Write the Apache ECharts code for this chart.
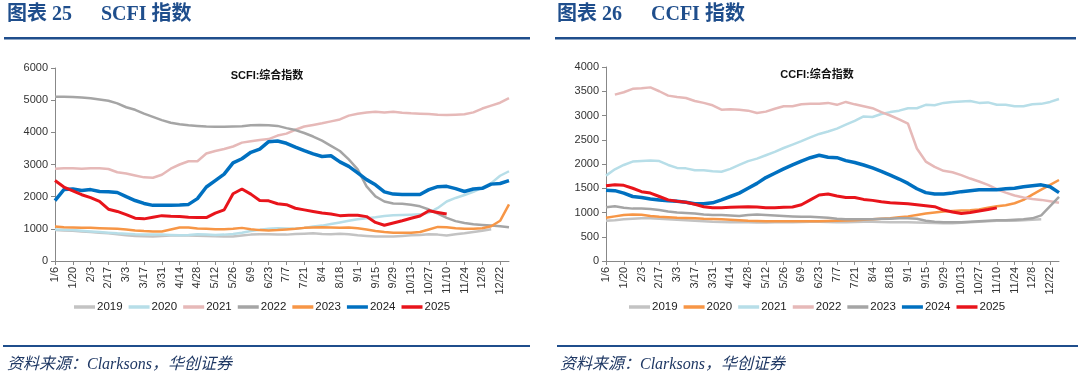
<!DOCTYPE html>
<html><head><meta charset="utf-8">
<script src="https://cdn.jsdelivr.net/npm/echarts@6/dist/echarts.min.js"></script>
<style>html,body{margin:0;padding:0;background:#fff}#c{width:1080px;height:380px}</style>
</head><body><div id="c"></div>
<script>
const weeks = ['1/6','1/13','1/20','1/27','2/3','2/10','2/17','2/24','3/3','3/10','3/17','3/24','3/31','4/7','4/14','4/21','4/28','5/5','5/12','5/19','5/26','6/2','6/9','6/16','6/23','6/30','7/7','7/14','7/21','7/28','8/4','8/11','8/18','8/25','9/1','9/8','9/15','9/22','9/29','10/6','10/13','10/20','10/27','11/3','11/10','11/17','11/24','12/1','12/8','12/15','12/22','12/29'];
const years = ['2019','2020','2021','2022','2023','2024','2025'];

// SCFI composite index
const scfi2019 = [960,950,940,920,900,880,860,830,800,780,770,760,780,790,790,790,785,780,770,760,760,790,820,830,830,820,820,840,850,860,840,830,850,830,800,780,760,760,760,780,800,810,830,820,790,830,860,900,940,990];
const scfi2020 = [980,970,960,940,920,900,880,860,850,830,820,820,820,810,800,810,830,820,810,820,840,880,930,970,1000,1020,1010,1000,1030,1070,1100,1150,1200,1250,1300,1330,1360,1400,1420,1430,1440,1450,1500,1650,1850,1960,2050,2150,2280,2420,2650,2790];
const scfi2021 = [2870,2880,2880,2870,2880,2880,2860,2760,2720,2660,2600,2590,2680,2870,3000,3100,3100,3340,3420,3480,3560,3680,3720,3760,3790,3900,3960,4080,4180,4230,4280,4340,4400,4520,4580,4620,4640,4620,4640,4610,4590,4580,4570,4550,4540,4550,4560,4620,4740,4830,4920,5060];
const scfi2022 = [5110,5110,5100,5080,5060,5020,4980,4900,4780,4700,4580,4480,4380,4300,4250,4220,4200,4180,4170,4170,4180,4190,4220,4230,4220,4200,4130,4070,3980,3870,3740,3580,3420,3160,2850,2320,2010,1850,1790,1780,1750,1700,1600,1470,1340,1240,1180,1140,1120,1100,1080,1050];
const scfi2023 = [1070,1050,1040,1030,1030,1020,1010,1000,980,950,930,920,920,980,1040,1040,1010,1000,990,990,1000,1030,990,960,950,960,980,1000,1030,1040,1050,1040,1030,1040,1020,980,930,900,880,880,880,900,980,1060,1050,1020,1000,1000,1020,1080,1250,1760];
const scfi2024 = [1880,2220,2240,2190,2220,2160,2150,2130,2000,1880,1790,1730,1730,1730,1740,1760,1940,2300,2500,2700,3050,3180,3380,3480,3710,3730,3660,3540,3430,3330,3250,3270,3080,2940,2740,2530,2370,2150,2080,2070,2070,2070,2220,2310,2320,2250,2160,2240,2260,2390,2410,2500];
const scfi2025 = [2500,2300,2180,2060,1970,1850,1610,1540,1440,1330,1310,1360,1410,1390,1380,1360,1350,1350,1490,1590,2090,2240,2080,1880,1870,1780,1750,1640,1590,1540,1490,1460,1410,1420,1420,1380,1200,1110,1180,1250,1330,1400,1560,1510,1460];

// CCFI composite index
const ccfi2019 = [830,840,860,870,880,880,870,860,850,840,830,820,810,805,800,800,800,795,795,800,800,800,805,810,810,805,800,800,805,810,810,805,800,800,800,795,790,785,780,780,790,800,810,820,830,830,830,840,850,860];
const ccfi2020 = [890,920,950,960,955,930,910,900,890,885,880,870,865,860,850,840,830,825,820,820,820,820,820,820,820,825,830,835,840,850,860,870,880,900,920,950,980,1000,1020,1030,1040,1045,1060,1100,1130,1150,1190,1260,1370,1470,1570,1670];
const ccfi2021 = [1760,1890,1980,2050,2060,2070,2060,1980,1920,1910,1870,1870,1850,1840,1900,1980,2060,2110,2180,2250,2330,2400,2470,2550,2620,2670,2730,2810,2890,2980,2970,3030,3070,3100,3150,3150,3220,3210,3260,3280,3290,3300,3260,3270,3220,3220,3190,3190,3230,3240,3280,3340];
const ccfi2022 = [null,3430,3480,3550,3560,3580,3500,3410,3380,3360,3300,3260,3210,3120,3130,3120,3100,3050,3080,3140,3190,3190,3230,3240,3240,3260,3220,3280,3230,3190,3150,3070,3000,2920,2830,2320,2050,1940,1860,1830,1770,1700,1640,1570,1480,1410,1350,1310,1280,1260,1230,1200];
const ccfi2023 = [1110,1130,1100,1080,1080,1070,1050,1020,1000,990,980,960,950,950,940,930,950,960,950,940,930,920,910,910,900,890,870,860,860,860,860,870,870,880,880,870,830,810,800,800,800,810,820,830,840,840,850,860,880,940,1130,1320];
const ccfi2024 = [1460,1450,1400,1330,1310,1280,1260,1240,1230,1210,1180,1180,1200,1260,1330,1400,1500,1600,1720,1810,1900,1980,2060,2130,2180,2140,2130,2070,2030,1980,1920,1850,1770,1690,1600,1490,1410,1380,1380,1400,1430,1450,1470,1470,1470,1490,1500,1530,1550,1570,1530,1410];
const ccfi2025 = [1550,1570,1560,1500,1430,1400,1330,1260,1230,1210,1170,1120,1100,1100,1110,1115,1120,1115,1100,1100,1110,1115,1160,1260,1360,1380,1340,1310,1310,1270,1250,1220,1200,1190,1180,1160,1140,1120,1050,1010,980,1000,1030,1060,1095];

const scfiTicks = [0,1000,2000,3000,4000,5000,6000];
const ccfiTicks = [0,500,1000,1500,2000,2500,3000,3500,4000];

const scfiSeries = [scfi2019,scfi2020,scfi2021,scfi2022,scfi2023,scfi2024,scfi2025];
const ccfiSeries = [ccfi2019,ccfi2020,ccfi2021,ccfi2022,ccfi2023,ccfi2024,ccfi2025];
const C = {lgray:'#c3c3c3', lblue:'#b7dee8', pink:'#e6b9b8', dgray:'#a5a5a5', orange:'#f79646', blue:'#0070c0', red:'#e8141b'};
const scfiColors = [C.lgray,C.lblue,C.pink,C.dgray,C.orange,C.blue,C.red];
const ccfiColors = [C.lgray,C.orange,C.lblue,C.pink,C.dgray,C.blue,C.red];
const widths = [2.5,2.5,2.5,2.5,2.5,3.5,3];

const chart = echarts.init(document.getElementById('c'), null, {renderer:'canvas'});
const navy = '#1f4e8c';
const axisFont = {fontFamily:'Liberation Sans, Arial, sans-serif', fontSize:11, color:'#333'};

function mkSeries(arrs, colors, gi){
  return arrs.map((d,i)=>({
    type:'line', name:years[i], xAxisIndex:gi, yAxisIndex:gi, data:d,
    symbol:'none', smooth:false, connectNulls:false,
    lineStyle:{color:colors[i], width:widths[i]}, itemStyle:{color:colors[i]},
    emphasis:{disabled:true}, z:2+i
  }));
}
function mkLegend(colors, left){
  return {
    left:left, top:296, orient:'horizontal', icon:'rect', itemWidth:21, itemHeight:3.5, itemGap:6,
    textStyle:{fontFamily:'Liberation Sans, Arial, sans-serif', fontSize:11.5, color:'#222', padding:[0,0,0,-3]},
    selectedMode:false,
    data: years.map((y,i)=>({name:y, itemStyle:{color:colors[i]}}))
  };
}
function xAx(gi){
  return {type:'category', gridIndex:gi, data:weeks, boundaryGap:false,
    axisLine:{lineStyle:{color:'#888', width:1}},
    axisTick:{interval:1, length:4, lineStyle:{color:'#888'}},
    axisLabel:Object.assign({rotate:90, interval:1, margin:6}, axisFont),
    splitLine:{show:false}};
}
function yAx(gi, ticks){
  return {type:'value', gridIndex:gi, min:ticks[0], max:ticks[ticks.length-1], interval:ticks[1]-ticks[0],
    axisLine:{show:true, lineStyle:{color:'#888', width:1}},
    axisTick:{show:true, length:4, lineStyle:{color:'#888'}},
    axisLabel:Object.assign({margin:7, formatter:(v)=>String(v)}, axisFont),
    splitLine:{show:false}};
}

const hdrFont = 'bold 20px "Liberation Serif", "Noto Sans CJK SC", serif';
const footFont = 'italic 16px "Liberation Serif", "Noto Sans CJK SC", serif';

chart.setOption({
  animation:false,
  backgroundColor:'#fff',
  title:[
    {text:'SCFI:综合指数', left:262, top:65, textAlign:'center', textStyle:{fontFamily:'Liberation Sans, Noto Sans CJK SC, sans-serif', fontSize:11, fontWeight:'bold', color:'#111'}},
    {text:'CCFI:综合指数', left:812, top:64, textAlign:'center', textStyle:{fontFamily:'Liberation Sans, Noto Sans CJK SC, sans-serif', fontSize:11, fontWeight:'bold', color:'#111'}}
  ],
  grid:[
    {left:55, top:68, width:454, height:193},
    {left:606, top:67, width:453, height:194}
  ],
  xAxis:[xAx(0), xAx(1)],
  yAxis:[yAx(0, scfiTicks), yAx(1, ccfiTicks)],
  legend:[mkLegend(scfiColors, 69), mkLegend(ccfiColors, 624)],
  series: mkSeries(scfiSeries, scfiColors, 0).concat(mkSeries(ccfiSeries, ccfiColors, 1)),
  graphic:[
    {type:'text', left:7, top:5, style:{text:'图表 25', font:hdrFont, fill:navy}},
    {type:'text', left:101, top:5, style:{text:'SCFI 指数', font:hdrFont, fill:navy}},
    {type:'text', left:557, top:5, style:{text:'图表 26', font:hdrFont, fill:navy}},
    {type:'text', left:651, top:5, style:{text:'CCFI 指数', font:hdrFont, fill:navy}},
    {type:'rect', shape:{x:4, y:37, width:526, height:2.5}, style:{fill:navy}},
    {type:'rect', shape:{x:555, y:37, width:521, height:2.5}, style:{fill:navy}},
    {type:'rect', shape:{x:3, y:345, width:527, height:2}, style:{fill:navy}},
    {type:'rect', shape:{x:557, y:345, width:521, height:2}, style:{fill:navy}},
    {type:'text', left:7, top:357, style:{text:'资料来源：Clarksons，华创证券', font:footFont, fill:'#1f3864'}},
    {type:'text', left:560, top:357, style:{text:'资料来源：Clarksons，华创证券', font:footFont, fill:'#1f3864'}}
  ]
});
</script></body></html>
